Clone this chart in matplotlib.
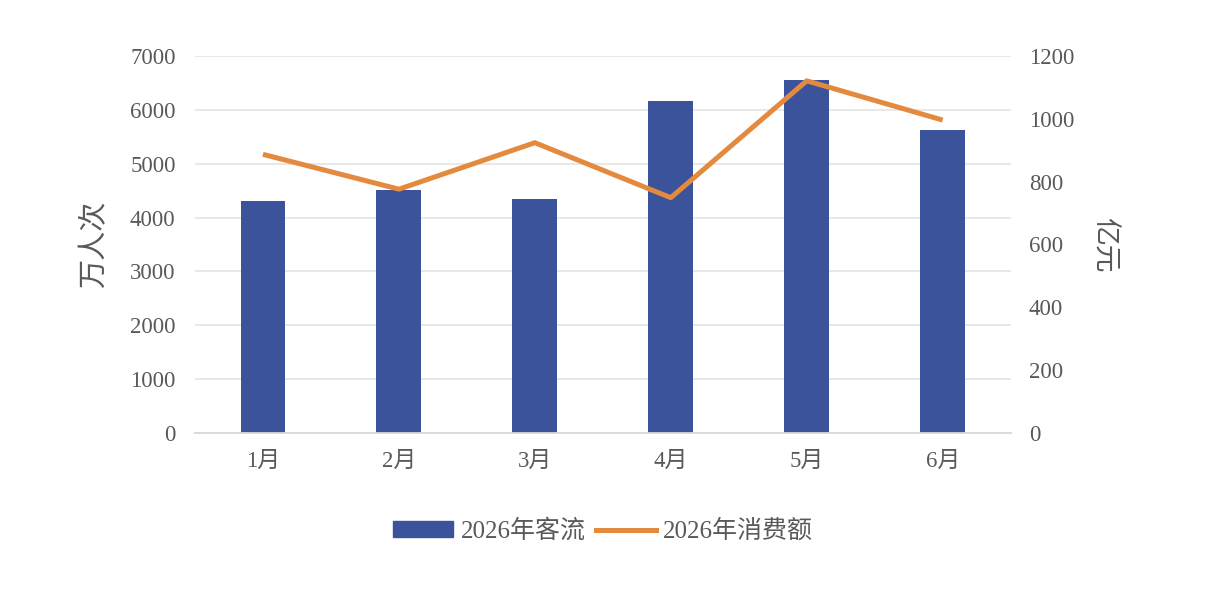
import matplotlib.pyplot as plt
from matplotlib.lines import Line2D
from matplotlib.patches import Patch

plt.rcParams['font.family'] = ['Liberation Serif', 'Noto Sans CJK SC', 'DejaVu Sans']

# data
months = ["1月", "2月", "3月", "4月", "5月", "6月"]
visitors = [4300, 4510, 4350, 6160, 6550, 5620]      # 万人次
spending = [887, 776, 924, 749, 1121, 996]           # 亿元

bar_color = "#3A539B"
line_color = "#E48A3E"
text_color = "#595959"
grid_color = "#E6E6E6"

fig = plt.figure(figsize=(12.06, 6.06), dpi=100)
ax = fig.add_axes([0.1617, 0.2855, 0.6763, 0.6221])
ax2 = ax.twinx()

x = range(len(months))
ax.bar(x, visitors, width=0.33, color=bar_color, zorder=2)
ax2.plot(x, spending, color=line_color, linewidth=3.6, solid_capstyle="butt", zorder=3)

ax.set_xlim(-0.5, len(months) - 0.5)
ax.set_ylim(0, 7000)
ax.set_yticks(range(0, 7001, 1000))
ax2.set_ylim(0, 1200)
ax2.set_yticks(range(0, 1201, 200))

ax.set_xticks(list(x))
ax.set_xticklabels(months)

ax.grid(axis="y", color=grid_color, linewidth=1.3, zorder=0)
ax.set_axisbelow(True)

for a in (ax, ax2):
    for s in a.spines.values():
        s.set_visible(False)
    a.tick_params(length=0, labelsize=16.5, colors=text_color)
ax.spines["bottom"].set_visible(True)
ax.spines["bottom"].set_color("#D9D9D9")
ax.spines["bottom"].set_linewidth(1.3)
ax.tick_params(axis="y", pad=14)
ax.tick_params(axis="x", pad=13)
ax2.tick_params(axis="y", pad=13)

ax.set_ylabel("万人次", fontsize=21, color=text_color, labelpad=16)
ax2.set_ylabel("亿元", fontsize=20, color=text_color, rotation=270, labelpad=30)

handles = [Patch(facecolor=bar_color, edgecolor=bar_color),
           Line2D([0], [0], color=line_color, linewidth=3.6)]
fig.legend(handles, ["2026年客流", "2026年消费额"], loc="center",
           bbox_to_anchor=(0.5, 1 - 531 / 606), ncol=2, frameon=False,
           fontsize=18, labelcolor=text_color, handlelength=2.4,
           handleheight=0.55, handletextpad=0.3, columnspacing=0.4)

fig.savefig("out.png", dpi=100, facecolor="white")
